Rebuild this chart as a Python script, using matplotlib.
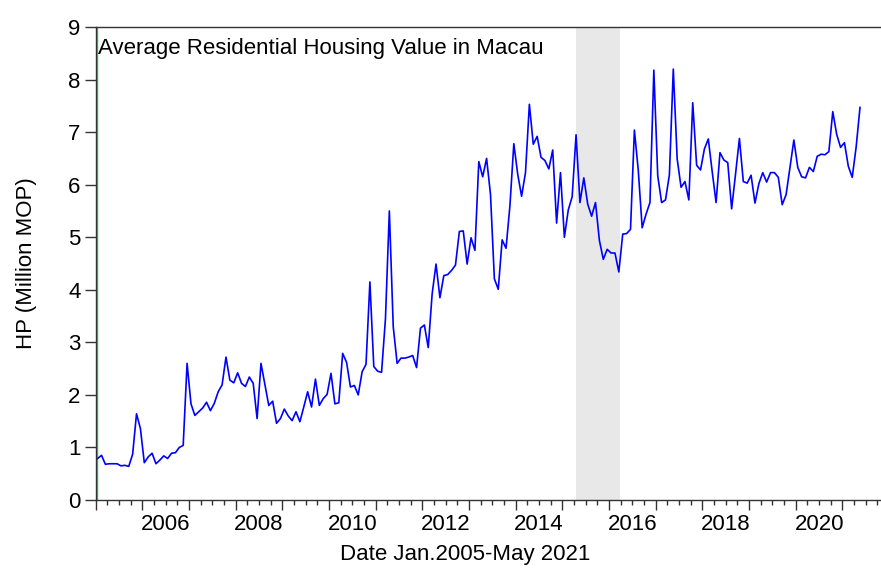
import numpy as np
import matplotlib.pyplot as plt

plt.rcParams['font.family'] = ['Liberation Sans', 'DejaVu Sans']

# monthly average residential housing value (million MOP), Jan 2005 - May 2021
hp = [0.79, 0.85, 0.68, 0.69, 0.69, 0.69, 0.65, 0.66, 0.64, 0.87, 1.64, 1.36,
      0.71, 0.82, 0.89, 0.69, 0.76, 0.84, 0.79, 0.89, 0.90, 1.00, 1.04, 2.60,
      1.83, 1.61, 1.68, 1.75, 1.86, 1.70, 1.84, 2.06, 2.19, 2.72, 2.28, 2.23,
      2.42, 2.22, 2.16, 2.34, 2.22, 1.55, 2.60, 2.20, 1.80, 1.88, 1.46, 1.55,
      1.73, 1.60, 1.51, 1.68, 1.49, 1.77, 2.06, 1.77, 2.30, 1.80, 1.93, 2.01,
      2.41, 1.83, 1.85, 2.79, 2.62, 2.15, 2.18, 2.00, 2.44, 2.58, 4.15, 2.54,
      2.45, 2.43, 3.45, 5.50, 3.30, 2.60, 2.70, 2.70, 2.72, 2.75, 2.52, 3.27,
      3.33, 2.90, 3.92, 4.49, 3.85, 4.27, 4.29, 4.37, 4.47, 5.11, 5.12, 4.49,
      4.99, 4.75, 6.44, 6.15, 6.50, 5.82, 4.21, 4.01, 4.95, 4.79, 5.60, 6.78,
      6.20, 5.78, 6.23, 7.53, 6.77, 6.92, 6.52, 6.46, 6.30, 6.66, 5.27, 6.23,
      5.00, 5.52, 5.77, 6.95, 5.66, 6.13, 5.63, 5.40, 5.66, 4.94, 4.58, 4.77,
      4.70, 4.70, 4.34, 5.06, 5.07, 5.15, 7.04, 6.27, 5.18, 5.44, 5.66, 8.18,
      6.17, 5.66, 5.71, 6.19, 8.20, 6.49, 5.95, 6.06, 5.71, 7.56, 6.37, 6.28,
      6.68, 6.87, 6.25, 5.66, 6.61, 6.47, 6.42, 5.54, 6.20, 6.88, 6.06, 6.03,
      6.18, 5.65, 6.02, 6.23, 6.05, 6.23, 6.23, 6.14, 5.62, 5.81, 6.33, 6.85,
      6.33, 6.15, 6.13, 6.33, 6.25, 6.54, 6.58, 6.57, 6.63, 7.39, 6.96, 6.71,
      6.80, 6.35, 6.14, 6.71, 7.47]

first_year = 2005
year_labels = [2006, 2008, 2010, 2012, 2014, 2016, 2018, 2020]
# shaded period, in months after Jan 2005
shade_start = 123
shade_end = 134.3

months = np.arange(len(hp))

fig = plt.figure(figsize=(8.81, 5.68), dpi=100)
ax = fig.add_axes([0.1086, 0.1197, 0.8914, 0.8327])

ax.axvspan(shade_start, shade_end, color='#e8e8e8', lw=0, zorder=0)
ax.axvline(-0.25, color='#22cc66', lw=1, zorder=1)
ax.plot(months, hp, color='#0000ff', lw=1.2, zorder=2)

ax.set_ylim(0, 9)
ax.set_yticks(range(0, 10))
ax.set_xlim(-0.5, 201.4)

# year boundaries as major ticks, quarters as minor
ax.set_xticks(np.arange(-0.5, 202, 12))
ax.set_xticks(np.arange(-0.5, 202, 3), minor=True)
ax.set_xticklabels([])
ax.tick_params(axis='x', which='major', length=7, width=1, color='#333333', direction='out')
ax.tick_params(axis='x', which='minor', length=3.5, width=1, color='#333333', direction='out')
ax.tick_params(axis='y', length=8, width=1, color='#333333', labelsize=16, pad=3)

# year labels centred in their year
sec = ax.secondary_xaxis('bottom')
sec.set_xticks([(y - first_year) * 12 + 5.5 for y in year_labels])
sec.set_xticklabels([str(y) for y in year_labels])
sec.tick_params(length=0, pad=10, labelsize=16)
sec.spines['bottom'].set_visible(False)

for side in ['left', 'top', 'bottom']:
    ax.spines[side].set_color('#333333')
    ax.spines[side].set_linewidth(1)
ax.spines['right'].set_visible(False)

ax.text(0.003, 0.976, 'Average Residential Housing Value in Macau',
        transform=ax.transAxes, ha='left', va='top', fontsize=16)

ax.set_ylabel('HP (Million MOP)', fontsize=16, labelpad=22)
ax.set_xlabel('Date Jan.2005-May 2021', fontsize=16)
ax.xaxis.set_label_coords(0.471, -0.092)

plt.savefig('out.png', dpi=100)
